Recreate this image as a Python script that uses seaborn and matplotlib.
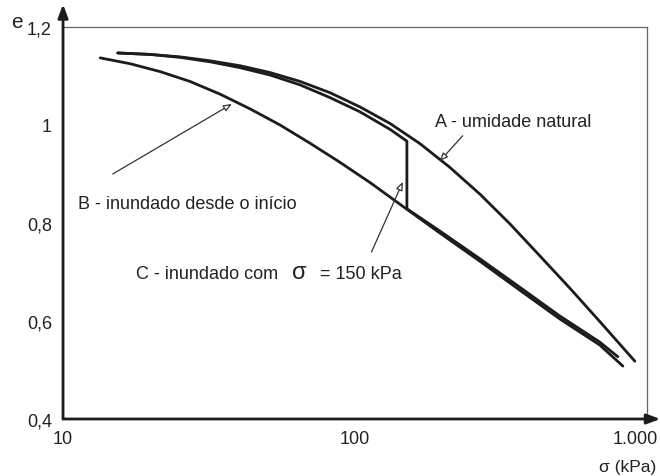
import numpy as np
import pandas as pd
import matplotlib
matplotlib.use("Agg")
import matplotlib.pyplot as plt
import matplotlib.transforms as mtransforms
from matplotlib.ticker import FixedLocator, FixedFormatter, LogLocator, NullFormatter
import seaborn as sns

# Compression curves: void ratio e vs vertical stress sigma (kPa)
# A - natural moisture
sigma_a = [15.4, 19.9, 25.2, 31.9, 40.4, 51.2, 64.8, 82.1, 104, 132, 167, 211, 268, 340,
           430, 545, 690, 910]
e_a = [1.147, 1.144, 1.139, 1.131, 1.121, 1.107, 1.089, 1.066, 1.037, 1.003, 0.962, 0.914,
       0.859, 0.798, 0.733, 0.667, 0.599, 0.518]

# B - flooded from the start
sigma_b = [13.4, 17.0, 21.5, 27.2, 34.5, 43.7, 55.4, 70.1, 88.8, 113, 150.7, 195, 268, 367,
           504, 690, 828]
e_b = [1.137, 1.125, 1.109, 1.089, 1.063, 1.033, 1.000, 0.963, 0.924, 0.882, 0.828, 0.780,
       0.722, 0.663, 0.604, 0.551, 0.508]

# C - flooded at sigma = 150 kPa (collapse step at 150.7 kPa)
sigma_c = [15.4, 19.9, 25.2, 31.9, 40.4, 51.2, 64.8, 82.1, 104, 132, 150.7, 150.7, 195, 268,
           367, 504, 690, 796]
e_c = [1.147, 1.144, 1.138, 1.129, 1.117, 1.102, 1.082, 1.056, 1.027, 0.991, 0.967, 0.829,
       0.784, 0.727, 0.669, 0.610, 0.557, 0.527]

y_ticks = [0.4, 0.6, 0.8, 1.0, 1.2]
y_tick_labels = ["0,4", "0,6", "0,8", "1", "1,2"]
x_ticks = [10, 100, 1000]
x_tick_labels = ["10", "100", "1.000"]

sns.set_style("white")
plt.rcParams["font.family"] = ["Liberation Sans", "DejaVu Sans"]

fig = plt.figure(figsize=(6.6, 4.77), dpi=100)
ax = fig.add_axes([0.0955, 0.1195, 0.8845, 0.8218])

ink = "#1c1c1c"
text_color = "#222222"
frames = {
    "A": pd.DataFrame({"sigma": sigma_a, "e": e_a}),
    "B": pd.DataFrame({"sigma": sigma_b, "e": e_b}),
    "C": pd.DataFrame({"sigma": sigma_c, "e": e_c}),
}
for name, df in frames.items():
    sns.lineplot(data=df, x="sigma", y="e", sort=False, estimator=None,
                 color=ink, linewidth=2.0, ax=ax)

ax.set_xscale("log")
ax.set_xlim(10, 1000)
ax.set_ylim(0.4, 1.2)

ax.xaxis.set_major_locator(FixedLocator(x_ticks))
ax.xaxis.set_major_formatter(FixedFormatter(x_tick_labels))
ax.xaxis.set_minor_locator(LogLocator(base=10, subs=range(2, 10)))
ax.xaxis.set_minor_formatter(NullFormatter())
ax.yaxis.set_major_locator(FixedLocator(y_ticks))
ax.yaxis.set_major_formatter(FixedFormatter(y_tick_labels))
ax.yaxis.set_minor_locator(FixedLocator([0.5, 0.7, 0.9, 1.1]))

ax.tick_params(axis="both", which="both", direction="in", colors="#555555",
               labelcolor=text_color, labelsize=13, width=0.8)
ax.tick_params(axis="x", which="major", length=8, pad=8)
ax.tick_params(axis="x", which="minor", length=5)
ax.tick_params(axis="y", which="major", length=5, pad=8)
ax.tick_params(axis="y", which="minor", length=5)

# nudge the last x label left so it stays inside the figure
fig.canvas.draw()
last = ax.get_xticklabels()[-1]
last.set_transform(last.get_transform() +
                   mtransforms.ScaledTranslation(-12 / 100, 0, fig.dpi_scale_trans))

for side in ("top", "right"):
    ax.spines[side].set_visible(True)
    ax.spines[side].set_color("#666666")
    ax.spines[side].set_linewidth(0.9)
for side in ("left", "bottom"):
    ax.spines[side].set_visible(False)

# Axis arrows
ax.annotate("", xy=(0, 1.058), xytext=(0, 0), xycoords="axes fraction",
            textcoords="axes fraction",
            arrowprops=dict(arrowstyle="-|>,head_length=0.8,head_width=0.3",
                            color=ink, lw=2.0, shrinkA=0, shrinkB=0))
ax.annotate("", xy=(1.023, 0), xytext=(0, 0), xycoords="axes fraction",
            textcoords="axes fraction",
            arrowprops=dict(arrowstyle="-|>,head_length=0.8,head_width=0.3",
                            color=ink, lw=2.0, shrinkA=0, shrinkB=0))

ax.set_xlabel("")
ax.set_ylabel("")
ax.text(-0.079, 1.014, "e", transform=ax.transAxes, fontsize=15, color=text_color,
        ha="center", va="center")
ax.text(0.967, -0.12, "σ (kPa)", transform=ax.transAxes, fontsize=12.5, color=text_color,
        ha="center", va="center")

# Curve labels with pointer arrows
arrow_kw = dict(arrowstyle="-|>,head_length=0.5,head_width=0.2", fc="white",
                ec="#333333", lw=0.9, shrinkA=0, shrinkB=0)
ax.annotate("", xy=(195, 0.926), xytext=(234, 0.978), arrowprops=arrow_kw)
ax.annotate("", xy=(37.9, 1.043), xytext=(14.8, 0.90), arrowprops=arrow_kw)
ax.annotate("", xy=(146, 0.884), xytext=(114, 0.741), arrowprops=arrow_kw)

ax.text(0.637, 0.760, "A - umidade natural", transform=ax.transAxes, fontsize=13,
        color=text_color, ha="left", va="center")
ax.text(0.026, 0.551, "B - inundado desde o início", transform=ax.transAxes, fontsize=13,
        color=text_color, ha="left", va="center")
ax.text(0.368, 0.372, "C - inundado com", transform=ax.transAxes, fontsize=13,
        color=text_color, ha="right", va="center")
ax.text(0.405, 0.376, "σ", transform=ax.transAxes, fontsize=17,
        color=text_color, ha="center", va="center")
ax.text(0.440, 0.372, "= 150 kPa", transform=ax.transAxes, fontsize=13,
        color=text_color, ha="left", va="center")

fig.savefig("out.png", dpi=100, facecolor="white")
